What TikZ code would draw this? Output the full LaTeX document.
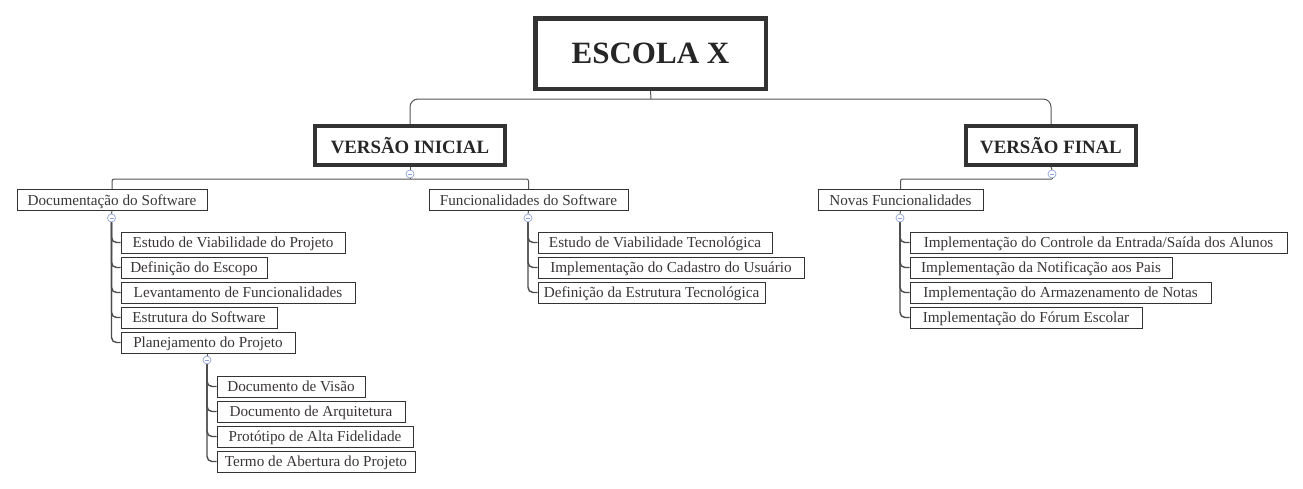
\documentclass[tikz,border=0pt]{standalone}
\usepackage{fontspec}
\setmainfont{Liberation Serif}
\definecolor{txt}{HTML}{3A3636}
\definecolor{boxc}{HTML}{333333}
\definecolor{conc}{HTML}{555555}
\definecolor{minc}{HTML}{8FA3D8}
\tikzset{
  leaf/.style={draw=boxc, line width=1pt, anchor=west, minimum height=21pt, inner sep=0pt,
    text height=12pt, text depth=2pt,
    font=\fontsize{15.2}{17}\selectfont, text=txt},
  head/.style={draw=boxc, line width=4pt, inner sep=0pt, text=black!85,
    font=\bfseries\fontsize{18.8}{20}\selectfont},
  conn/.style={draw=conc, line width=1pt},
  trunk/.style={draw=conc!90!black, line width=1.4pt},
  minus/.style={circle, draw=minc, fill=white, line width=0.7pt, minimum size=8pt, inner sep=0pt,
    path picture={\draw[minc, line width=0.8pt] ([xshift=2pt]path picture bounding box.west) -- ([xshift=-2pt]path picture bounding box.east);}}
}
\begin{document}
\begin{tikzpicture}[x=1pt,y=-1pt]
\useasboundingbox[fill=white] (0,0) rectangle (1303,488);
% root and heads
\node[draw=boxc, line width=4.5pt, minimum width=230.5pt, minimum height=70.5pt, inner sep=0pt,
  font=\bfseries\fontsize{31}{34}\selectfont, text=black!85] (root) at (650.5,53.5) {ESCOLA X};
\node[head, minimum width=190pt, minimum height=39pt] (vi) at (410,145.5) {VERSÃO INICIAL};
\node[head, minimum width=170pt, minimum height=39pt] (vf) at (1051,145.5) {VERSÃO FINAL};
\coordinate (rj) at (651,99);
\draw[conn] (root.south) -- (rj);
\draw[conn, rounded corners=8pt] (vi.north) |- (rj) -| (vf.north);

% level 2
\node[leaf, minimum width=190pt] (doc) at (16.5,200) {Documentação do Software};
\node[leaf, minimum width=199pt] (fun) at (428.5,200) {Funcionalidades do Software};
\node[leaf, minimum width=165pt] (nov) at (817.5,200) {Novas Funcionalidades};

\node[minus] (m1) at (410,174) {};
\node[minus] (m3) at (1052,174) {};
\coordinate (j1) at (410,179);
\coordinate (j3) at (1052,179);
\draw[conn] (vi.south) -- (m1.north);
\draw[conn] (vf.south) -- (m3.north);
\draw[conn] (m1.south) -- (j1);
\draw[conn] (m3.south) -- (j3);
\draw[conn, rounded corners=2pt] (doc.north) |- (j1) -| (fun.north);
\draw[conn, rounded corners=2pt] (j3) -| (nov.north);

% level 3 under Documentação
\node[leaf, minimum width=224pt] (d1) at (120.5,242.5) {Estudo de Viabilidade do Projeto};
\node[leaf, minimum width=146pt] (d2) at (120.5,267.5) {Definição do Escopo};
\node[leaf, minimum width=234pt] (d3) at (120.5,292.5) {Levantamento de Funcionalidades};
\node[leaf, minimum width=156pt] (d4) at (120.5,317.5) {Estrutura do Software};
\node[leaf, minimum width=174pt] (d5) at (120.5,342.5) {Planejamento do Projeto};
\node[minus] (m2) at (111.5,218) {};
\draw[conn] (doc.south) -- (m2.north);
\foreach \n in {d1,d2,d3,d4,d5} \draw[trunk, rounded corners=5pt] (m2.south) |- (\n.west);

% level 4 under Planejamento
\node[leaf, minimum width=148pt] (p1) at (216.5,386.5) {Documento de Visão};
\node[leaf, minimum width=188pt] (p2) at (216.5,411.5) {Documento de Arquitetura};
\node[leaf, minimum width=196pt] (p3) at (216.5,436.5) {Protótipo de Alta Fidelidade};
\node[leaf, minimum width=198pt] (p4) at (216.5,461.5) {Termo de Abertura do Projeto};
\node[minus] (m5) at (207,360) {};
\draw[conn] (m5.north |- d5.south) -- (m5.north);
\foreach \n in {p1,p2,p3,p4} \draw[trunk, rounded corners=5pt] (m5.south) |- (\n.west);

% level 3 under Funcionalidades
\node[leaf, minimum width=234pt] (f1) at (537.5,242.5) {Estudo de Viabilidade Tecnológica};
\node[leaf, minimum width=266pt] (f2) at (537.5,267.5) {Implementação do Cadastro do Usuário};
\node[leaf, minimum width=227pt] (f3) at (537.5,292.5) {Definição da Estrutura Tecnológica};
\node[minus] (m4) at (528,218) {};
\draw[conn] (fun.south) -- (m4.north);
\foreach \n in {f1,f2,f3} \draw[trunk, rounded corners=5pt] (m4.south) |- (\n.west);

% level 3 under Novas
\node[leaf, minimum width=377pt] (n1) at (909.5,242.5) {Implementação do Controle da Entrada/Saída dos Alunos};
\node[leaf, minimum width=262pt] (n2) at (909.5,267.5) {Implementação da Notificação aos Pais};
\node[leaf, minimum width=301pt] (n3) at (909.5,292.5) {Implementação do Armazenamento de Notas};
\node[leaf, minimum width=232pt] (n4) at (909.5,317.5) {Implementação do Fórum Escolar};
\node[minus] (m6) at (900,218) {};
\draw[conn] (nov.south) -- (m6.north);
\foreach \n in {n1,n2,n3,n4} \draw[trunk, rounded corners=5pt] (m6.south) |- (\n.west);
\end{tikzpicture}
\end{document}
